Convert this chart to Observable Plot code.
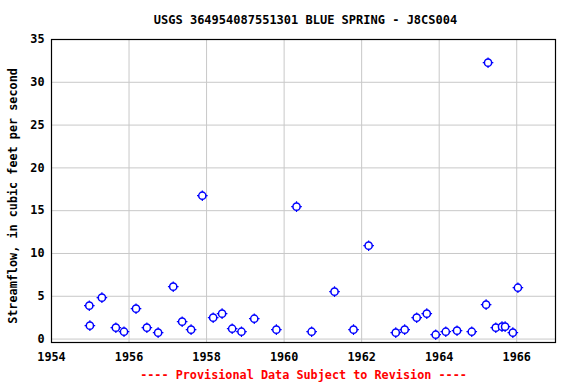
<!DOCTYPE html>
<html><head><meta charset="utf-8">
<script src="https://cdn.jsdelivr.net/npm/d3@7"></script>
<script src="https://cdn.jsdelivr.net/npm/@observablehq/plot@0.6"></script>
<style>body{margin:0;background:#fff} svg{display:block}</style>
</head><body><div id="chart"></div>
<script>
const titleText = "USGS 364954087551301 BLUE SPRING - J8CS004";
const yLabel = "Streamflow, in cubic feet per second";
const captionText = "---- Provisional Data Subject to Revision ----";
const years = [1954.975,1954.99,1955.30,1955.66,1955.87,1956.18,1956.46,1956.75,1957.14,1957.37,1957.60,1957.89,1958.17,1958.40,1958.66,1958.90,1959.23,1959.80,1960.32,1960.71,1961.30,1961.79,1962.18,1962.88,1963.11,1963.42,1963.68,1963.91,1964.17,1964.46,1964.84,1965.21,1965.26,1965.46,1965.62,1965.70,1965.90,1966.03];
const flows = [3.9,1.57,4.84,1.33,0.86,3.55,1.33,0.75,6.12,2.03,1.1,16.75,2.5,2.97,1.21,0.86,2.38,1.1,15.47,0.86,5.54,1.1,10.91,0.75,1.1,2.5,2.97,0.51,0.86,0.98,0.86,4.02,32.29,1.33,1.45,1.45,0.75,6.0];
const xTicks = [1954,1956,1958,1960,1962,1964,1966];
const yTicks = [0,5,10,15,20,25,30,35];
const data = years.map((t,i)=>({t, q: flows[i]}));
const font = "'DejaVu Sans Mono', monospace";
const plusSymbol = {draw(ctx, size){const r=Math.sqrt(size/Math.PI);ctx.moveTo(-r,0);ctx.lineTo(r,0);ctx.moveTo(0,-r);ctx.lineTo(0,r);}};
const chart = Plot.plot({
  width:576, height:384, marginLeft:51, marginRight:21, marginTop:39, marginBottom:42,
  style:{fontFamily:font, fontSize:"11.8px", fontWeight:"bold", background:"#fff", color:"#000"},
  x:{domain:[1954,1967], label:null},
  y:{domain:[-0.4,35], label:null},
  marks:[
    Plot.gridX(xTicks.slice(1), {stroke:"#c8c8c8", strokeOpacity:1}),
    Plot.gridY(yTicks, {stroke:"#c8c8c8", strokeOpacity:1}),
    Plot.axisX(xTicks, {tickSize:0, tickPadding:10, tickFormat:d=>String(d), fontSize:11.8, fontWeight:"bold"}),
    Plot.axisY(yTicks, {tickSize:0, tickPadding:7, fontSize:11.8, fontWeight:"bold", label:null}),
    Plot.frame({stroke:"#000", strokeWidth:1.2}),
    Plot.dot(data, {x:"t", y:"q", symbol:plusSymbol, r:5.3, stroke:"blue", strokeWidth:1.2}),
    Plot.dot(data, {x:"t", y:"q", r:3.6, fill:"white", stroke:"blue", strokeWidth:1.5}),
    Plot.text([titleText], {frameAnchor:"top", lineAnchor:"middle", dy:-19, dx:2, fontSize:12, fontWeight:"bold", fill:"#000"}),
    Plot.text([yLabel], {frameAnchor:"left", textAnchor:"middle", rotate:-90, dx:-38, dy:5, fontSize:11.8, fontWeight:"bold", fill:"#000"}),
    Plot.text([captionText], {frameAnchor:"bottom", lineAnchor:"middle", dy:33, fontSize:11.8, fontWeight:"bold", fill:"red"})
  ]
});
document.getElementById("chart").append(chart);
</script>
</body></html>
